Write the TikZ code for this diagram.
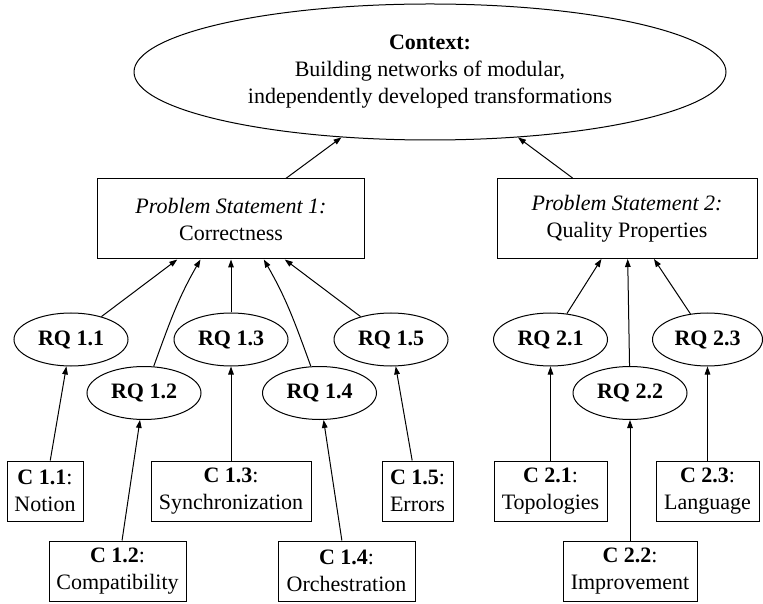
\documentclass[tikz,border=0pt]{standalone}
\usepackage{fontspec}
\setmainfont{Liberation Serif}
\usetikzlibrary{shapes.geometric,arrows.meta}

\tikzset{
  rq/.style={ellipse, draw, inner sep=0pt, minimum width=57pt, minimum height=26.5pt, font=\fontsize{11}{13.5}\selectfont\bfseries},
  contrib/.style={rectangle, draw, align=center, inner sep=0pt, minimum height=30pt},
  stmt/.style={rectangle, draw, align=center, inner sep=0pt, minimum height=40pt},
  dep/.style={-{Triangle[length=4pt,width=2.8pt]}},
}

\begin{document}
\begin{tikzpicture}[x=0.5pt, y=-0.5pt, line width=0.5pt, font=\fontsize{11}{13.5}\selectfont]
\useasboundingbox (0,0) rectangle (763,603);

% Context at the top
\node[ellipse, draw, align=center, inner sep=0pt, minimum width=296pt, minimum height=68pt] (ctx) at (430,72)
  {\textbf{Context:}\\Building networks of modular,\\independently developed transformations};

% Problem statements
\node[stmt, minimum width=133.5pt] (ps1) at (231,219) {\textit{Problem Statement 1:}\\Correctness};
\node[stmt, minimum width=130pt] (ps2) at (627,218.5) {\textit{Problem Statement 2:}\\Quality Properties};

% Research questions
\node[rq] (rq11) at (71,339.5) {RQ 1.1};
\node[rq] (rq12) at (144,393) {RQ 1.2};
\node[rq] (rq13) at (231,339.5) {RQ 1.3};
\node[rq] (rq14) at (319.5,393) {RQ 1.4};
\node[rq] (rq15) at (391,339.5) {RQ 1.5};
\node[rq] (rq21) at (550.5,339.5) {RQ 2.1};
\node[rq] (rq22) at (630,393) {RQ 2.2};
\node[rq, minimum width=55pt] (rq23) at (707.5,339.5) {RQ 2.3};

% Contributions
\node[contrib, minimum width=38pt] (c11) at (45,491) {\textbf{C 1.1}:\\Notion};
\node[contrib, minimum width=68.5pt] (c12) at (117.5,571) {\textbf{C 1.2}:\\Compatibility};
\node[contrib, minimum width=80pt] (c13) at (231,491) {\textbf{C 1.3}:\\Synchronization};
\node[contrib, minimum width=68.5pt] (c14) at (346.5,571) {\textbf{C 1.4}:\\Orchestration};
\node[contrib, minimum width=35.5pt] (c15) at (417.5,491) {\textbf{C 1.5}:\\Errors};
\node[contrib, minimum width=56.5pt] (c21) at (550.5,491) {\textbf{C 2.1}:\\Topologies};
\node[contrib, minimum width=67pt] (c22) at (630,571) {\textbf{C 2.2}:\\Improvement};
\node[contrib, minimum width=51.5pt] (c23) at (707.5,491) {\textbf{C 2.3}:\\Language};

% Statements -> context
\draw[dep] (ps1) -- (ctx);
\draw[dep] (ps2) -- (ctx);

% Questions -> statements
\draw[dep] (rq11) -- (ps1);
\draw[dep] (rq12.70) to[out=70,in=-120] (ps1.233);
\draw[dep] (rq13) -- (ps1);
\draw[dep] (rq14.108) to[out=110,in=-60] (ps1.309);
\draw[dep] (rq15) -- (ps1);
\draw[dep] (rq21) -- (ps2);
\draw[dep] (rq22) -- (ps2);
\draw[dep] (rq23) -- (ps2);

% Contributions -> questions
\draw[dep] (c11) -- (rq11);
\draw[dep] (c12) -- (rq12);
\draw[dep] (c13) -- (rq13);
\draw[dep] (c14) -- (rq14);
\draw[dep] (c15) -- (rq15);
\draw[dep] (c21) -- (rq21);
\draw[dep] (c22) -- (rq22);
\draw[dep] (c23) -- (rq23);

\end{tikzpicture}
\end{document}
